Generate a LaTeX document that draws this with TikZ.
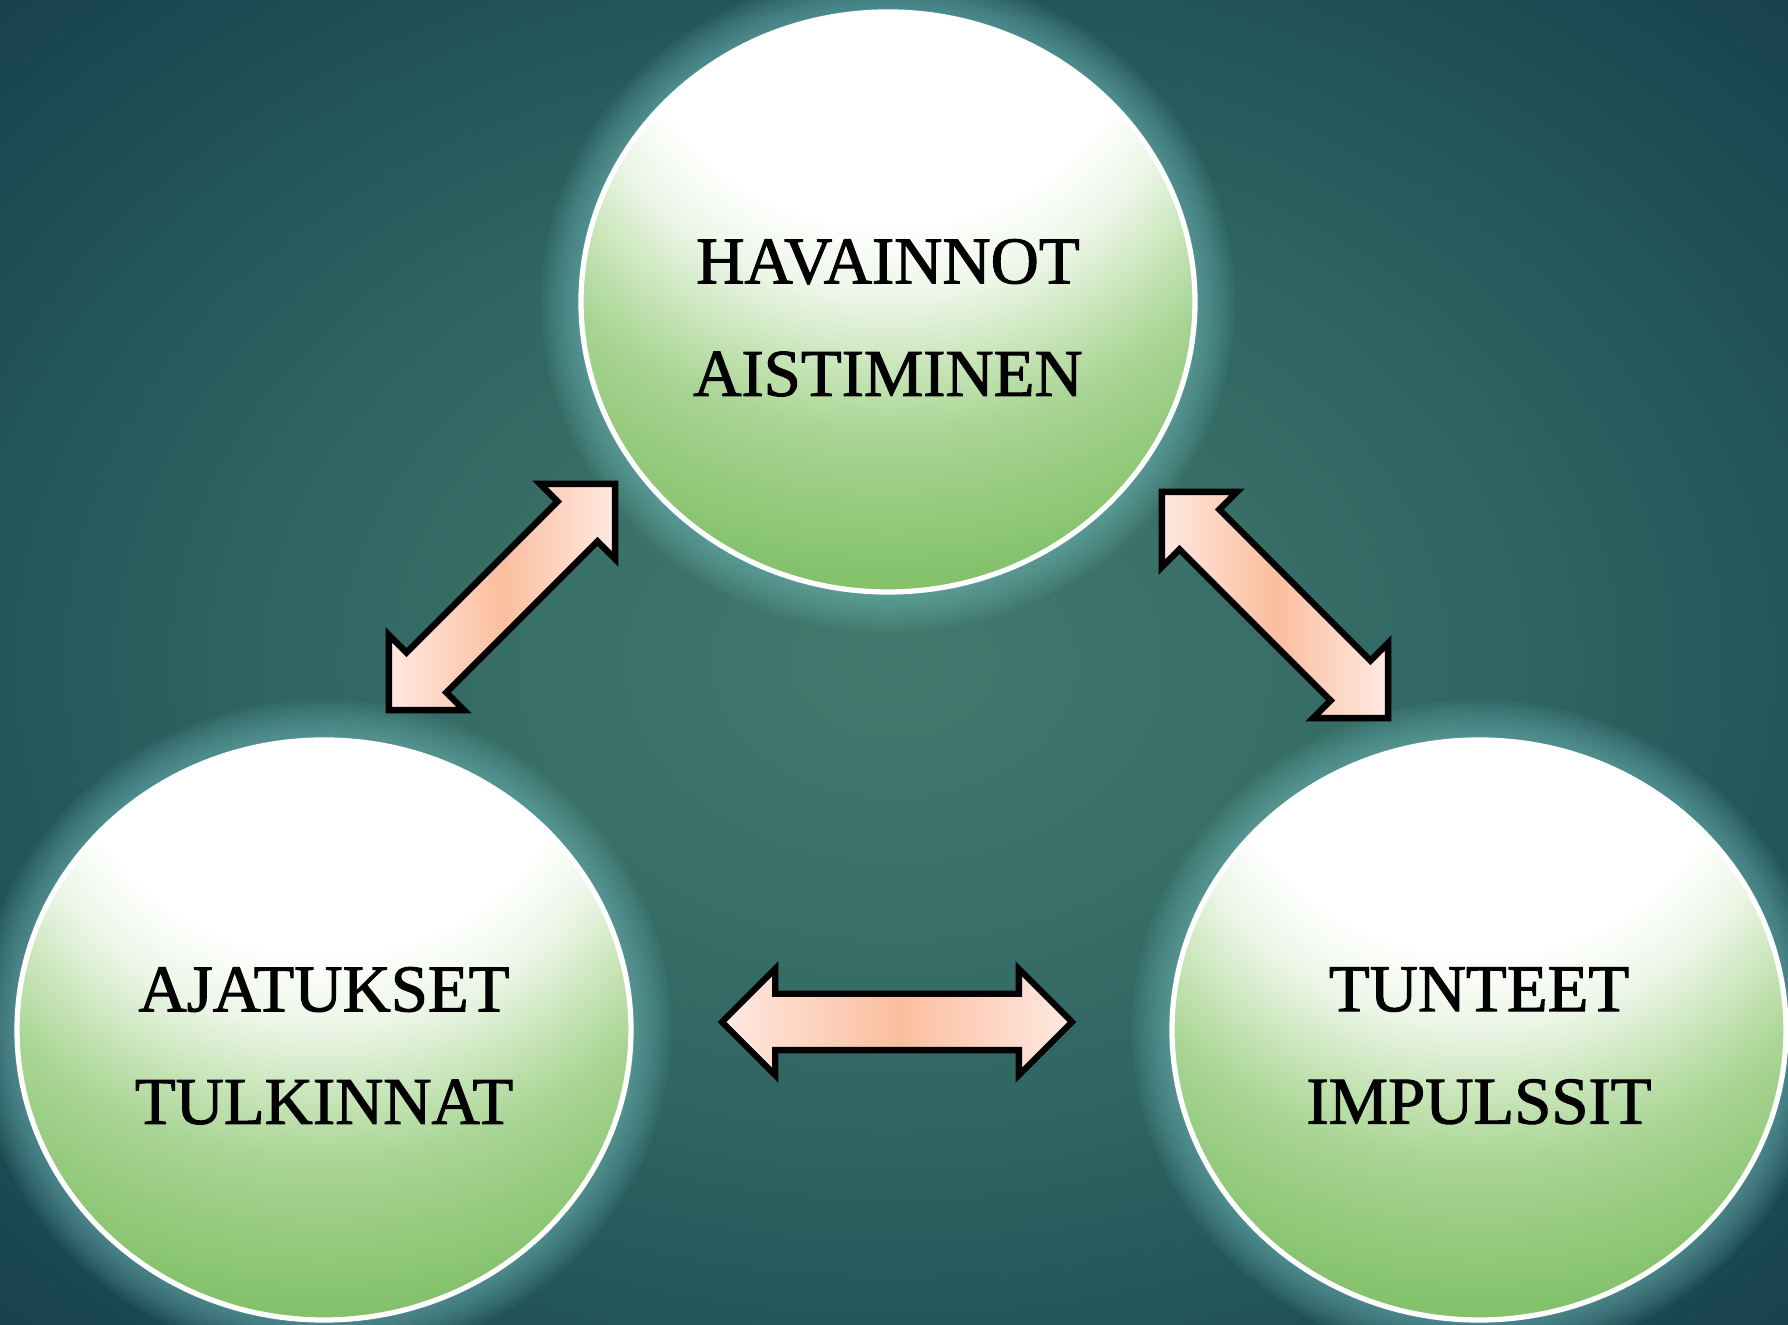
\documentclass[tikz,border=0pt]{standalone}
\usepackage{fontspec}
\setmainfont{Liberation Serif}[FakeBold=1.5]
\usetikzlibrary{shapes.geometric, shapes.arrows, backgrounds}

\definecolor{bgCenter}{HTML}{41796D}
\definecolor{bgInner}{HTML}{3B7268}
\definecolor{bgMid}{HTML}{2E6462}
\definecolor{bgEdge}{HTML}{24565A}
\definecolor{bgCorner}{HTML}{17404C}
\definecolor{glowTeal}{HTML}{7CC4C4}
\definecolor{greenPale}{HTML}{EDF6E8}
\definecolor{greenSoft}{HTML}{DDEFD4}
\definecolor{greenLight}{HTML}{C2E2B1}
\definecolor{greenMid}{HTML}{A8D494}
\definecolor{greenDeep}{HTML}{92C97A}
\definecolor{greenDark}{HTML}{80BF66}
\definecolor{peachDark}{HTML}{FBBE9F}
\definecolor{peachLight}{HTML}{FFE9E1}

% the filled path spans -25bp..25bp of a shading
\pgfdeclareradialshading{backdrop}{\pgfpoint{0bp}{0bp}}{color(0bp)=(bgCenter); color(8bp)=(bgInner); color(18bp)=(bgMid); color(25bp)=(bgEdge); color(36bp)=(bgCorner)}
\pgfdeclareradialshading{bubble}{\pgfpoint{0bp}{35bp}}{color(0bp)=(white); color(21bp)=(white); color(25.5bp)=(greenPale); color(27.5bp)=(greenSoft); color(31bp)=(greenLight); color(34.5bp)=(greenMid); color(40bp)=(greenDeep); color(45bp)=(greenDark); color(100bp)=(greenDark)}

\begin{document}
\begin{tikzpicture}[x=0.1mm, y=-0.1mm,
  sphere/.style={ellipse, draw=white, line width=1.5pt, minimum width=61.4mm, minimum height=58mm, inner sep=0pt, shading=bubble},
  captext/.style={font=\fontsize{19}{32}\selectfont, align=center, text=black},
  twoway/.style={double arrow, draw=black, line width=1.8pt, double arrow head extend=2.5mm, inner xsep=0pt, inner ysep=2.5mm, left color=peachLight, right color=peachLight, middle color=peachDark},
  glow/.style={fill=glowTeal, opacity=0.065}]
  \useasboundingbox (0,0) rectangle (1788,1325);

  \node[sphere] (obs) at (888,302) {};
  \node[sphere] (ajat) at (324,1030) {};
  \node[sphere] (tunt) at (1479,1030) {};

  \node[captext] (obsText) at ([yshift=-4.5pt]obs.center) {HAVAINNOT\\AISTIMINEN};
  \node[captext] (ajatText) at ([yshift=-4.5pt]ajat.center) {AJATUKSET\\TULKINNAT};
  \node[captext] (tuntText) at ([yshift=-4.5pt]tunt.center) {TUNTEET\\IMPULSSIT};

  \node[twoway, rotate=45, minimum height=32mm] (arrLeft) at (502,597) {};
  \node[twoway, rotate=-45, minimum height=32mm] (arrRight) at (1275,605) {};
  \node[twoway, minimum height=35mm] (arrBottom) at (897,1022) {};

  \begin{pgfonlayer}{background}
    \shade[shading=backdrop] (0,0) rectangle (1788,1325);
    % halo round the spheres
    \foreach \n in {obs,ajat,tunt}
      \foreach \k in {1,...,10}
        \fill[glow] (\n.center) ellipse [x radius=30.7mm+\k*0.4mm, y radius=29mm+\k*0.4mm];
  \end{pgfonlayer}
\end{tikzpicture}
\end{document}
